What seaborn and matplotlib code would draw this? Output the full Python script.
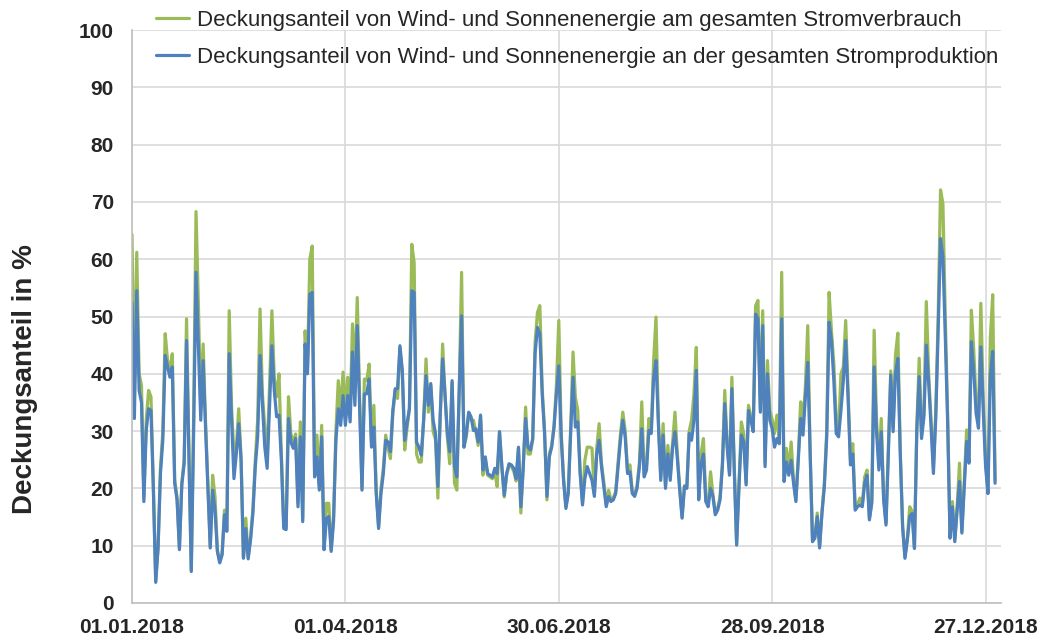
import pandas as pd
import numpy as np
import matplotlib
matplotlib.use("Agg")
import matplotlib.pyplot as plt
import matplotlib.dates as mdates
import seaborn as sns

# daily shares 2018 (in %)
produktion = [
    52.5, 32.2, 54.5, 37.1, 35.0, 17.7, 30.1, 33.9, 33.6, 20.0,
    3.6, 9.6, 22.6, 28.4, 43.2, 41.2, 39.4, 41.2, 20.9, 18.0,
    9.3, 20.6, 24.3, 45.8, 26.0, 5.5, 30.0, 57.7, 45.0, 31.9,
    42.3, 30.7, 20.3, 9.6, 19.7, 16.2, 9.0, 7.0, 8.4, 15.4,
    12.5, 43.5, 31.9, 21.7, 26.0, 31.3, 24.9, 7.8, 13.0, 7.7,
    11.0, 15.7, 23.8, 29.0, 43.2, 34.8, 27.2, 23.5, 34.2, 44.9,
    37.1, 32.5, 32.8, 24.9, 13.0, 12.8, 32.2, 28.1, 27.0, 28.7,
    16.8, 29.0, 14.2, 45.2, 40.0, 53.9, 54.2, 22.0, 25.5, 19.7,
    29.0, 9.3, 14.8, 15.1, 9.0, 14.2, 28.4, 33.9, 31.0, 36.2,
    31.0, 36.2, 31.6, 43.8, 34.5, 48.4, 34.2, 19.7, 36.5, 36.5,
    39.1, 27.2, 30.7, 19.1, 13.0, 19.1, 22.6, 28.4, 28.1, 26.4,
    33.6, 37.4, 37.4, 44.9, 40.6, 28.4, 31.3, 33.9, 54.5, 54.2,
    28.1, 27.2, 25.8, 31.9, 39.7, 34.5, 38.3, 31.9, 29.6, 20.3,
    33.0, 42.6, 36.5, 29.6, 26.4, 38.8, 23.8, 22.0, 37.1, 50.1,
    27.2, 29.6, 33.3, 32.5, 30.1, 30.4, 28.1, 32.8, 23.2, 25.5,
    22.6, 22.3, 22.0, 23.5, 22.6, 29.9, 23.8, 18.8, 22.6, 24.3,
    24.1, 23.5, 21.7, 27.2, 16.8, 23.8, 32.2, 27.2, 26.7, 28.7,
    43.5, 48.1, 47.0, 36.5, 29.6, 18.6, 25.5, 27.2, 30.7, 36.5,
    41.4, 29.0, 21.4, 16.5, 19.1, 29.6, 39.4, 30.7, 31.6, 22.6,
    17.1, 21.7, 23.8, 22.6, 21.4, 18.6, 26.0, 28.4, 23.8, 20.3,
    16.8, 18.6, 17.7, 18.0, 19.1, 23.8, 28.4, 31.9, 29.0, 22.6,
    22.9, 19.1, 18.6, 20.0, 23.8, 30.4, 22.0, 23.2, 30.1, 29.6,
    39.4, 42.3, 31.3, 21.4, 29.3, 20.0, 26.0, 21.4, 27.2, 29.9,
    25.2, 19.7, 14.8, 20.3, 20.0, 29.6, 28.4, 31.9, 40.6, 18.0,
    24.3, 26.0, 17.7, 16.8, 20.0, 18.6, 15.4, 16.2, 18.0, 23.8,
    34.8, 27.2, 22.3, 37.4, 23.2, 10.1, 20.3, 29.3, 28.1, 20.6,
    33.6, 31.9, 29.9, 50.4, 49.6, 33.3, 48.4, 23.8, 40.0, 31.9,
    30.4, 27.2, 28.7, 27.8, 49.6, 21.2, 24.6, 22.3, 24.9, 20.9,
    17.7, 24.9, 32.2, 29.3, 35.9, 42.0, 26.0, 10.7, 11.3, 15.1,
    9.6, 15.7, 20.3, 29.0, 49.0, 45.8, 38.8, 29.6, 29.0, 33.6,
    38.8, 45.8, 35.9, 24.1, 26.0, 16.2, 16.8, 17.1, 16.8, 20.9,
    22.3, 14.5, 17.4, 41.2, 30.0, 23.2, 29.9, 18.0, 13.6, 26.1,
    39.8, 29.9, 40.1, 42.7, 26.1, 13.3, 7.8, 11.0, 15.1, 15.6,
    9.5, 30.2, 39.5, 28.7, 32.5, 45.0, 38.3, 30.8, 22.6, 32.5,
    47.6, 63.6, 60.4, 46.5, 31.4, 11.3, 16.8, 10.7, 16.2, 21.2,
    12.2, 20.3, 28.2, 24.4, 45.6, 40.4, 33.1, 30.5, 44.7, 33.7,
    23.8, 19.1, 39.5, 43.9, 20.9,
]

verbrauch = [
    64.3, 36.0, 61.2, 40.0, 38.0, 18.5, 31.9, 37.1, 36.0, 20.5,
    3.8, 9.8, 23.5, 30.0, 47.0, 42.3, 40.9, 43.5, 21.5, 18.5,
    9.5, 21.0, 25.0, 49.6, 27.0, 5.6, 33.0, 68.3, 52.0, 34.0,
    45.2, 32.0, 21.0, 9.8, 22.3, 18.6, 9.3, 7.2, 8.7, 16.2,
    13.0, 51.0, 34.0, 26.0, 27.0, 33.9, 25.5, 8.0, 14.8, 8.0,
    11.5, 16.5, 25.0, 32.0, 51.3, 36.5, 30.7, 26.0, 37.7, 51.0,
    39.4, 36.0, 40.0, 26.0, 13.5, 13.2, 36.0, 29.5, 28.0, 29.5,
    17.5, 31.6, 14.8, 47.5, 41.0, 60.0, 62.3, 23.0, 29.3, 20.5,
    31.0, 9.6, 17.4, 17.4, 9.3, 15.0, 30.0, 38.8, 33.6, 40.3,
    33.6, 39.4, 33.6, 48.7, 39.4, 53.3, 36.0, 20.0, 39.1, 38.8,
    41.7, 28.0, 34.5, 19.5, 13.3, 20.0, 23.5, 29.3, 27.0, 25.2,
    33.0, 37.0, 35.7, 44.5, 40.0, 26.7, 30.5, 34.0, 62.6, 59.4,
    26.0, 24.6, 24.6, 31.9, 42.6, 33.3, 38.0, 29.9, 28.5, 18.3,
    32.5, 45.2, 36.5, 29.0, 24.3, 38.5, 20.9, 19.7, 37.0, 57.7,
    27.2, 29.0, 33.0, 32.0, 31.9, 30.0, 27.5, 32.5, 22.3, 25.0,
    22.3, 22.0, 21.7, 23.0, 20.3, 29.9, 23.5, 18.5, 22.3, 24.0,
    23.8, 23.0, 21.3, 27.0, 15.7, 23.5, 34.2, 26.0, 26.0, 28.5,
    45.5, 50.7, 51.9, 37.5, 30.0, 18.0, 26.0, 27.5, 31.0, 38.0,
    49.3, 30.0, 22.0, 16.8, 19.5, 30.5, 43.8, 35.9, 33.6, 23.0,
    17.5, 24.9, 27.2, 27.2, 27.0, 19.0, 27.0, 31.3, 24.5, 21.0,
    17.2, 19.7, 18.0, 18.3, 19.5, 24.5, 29.5, 33.3, 30.0, 23.0,
    24.1, 19.5, 19.0, 20.5, 24.5, 35.1, 22.5, 24.0, 32.2, 30.0,
    42.3, 49.9, 32.0, 22.0, 31.3, 20.5, 27.5, 22.0, 28.0, 33.3,
    26.0, 20.0, 15.0, 20.5, 20.3, 30.0, 31.9, 36.5, 44.6, 18.5,
    26.0, 28.7, 18.0, 17.0, 22.9, 19.0, 15.7, 16.5, 18.5, 24.5,
    37.1, 28.0, 22.8, 39.4, 24.0, 10.3, 21.0, 31.6, 29.5, 21.0,
    34.5, 32.5, 30.5, 51.9, 52.8, 34.0, 51.0, 24.5, 42.3, 33.6,
    32.0, 29.6, 32.8, 28.5, 57.7, 22.0, 27.0, 23.0, 28.1, 21.5,
    18.0, 25.5, 35.1, 31.9, 37.7, 48.4, 26.5, 11.0, 11.6, 15.7,
    10.0, 16.0, 21.0, 30.0, 54.2, 47.5, 41.7, 31.9, 30.0, 40.0,
    41.2, 49.3, 37.0, 25.0, 27.8, 16.7, 17.2, 18.3, 17.2, 22.0,
    23.2, 14.8, 17.8, 47.6, 32.0, 24.0, 32.2, 18.5, 14.0, 27.0,
    40.5, 30.5, 43.3, 47.1, 27.0, 13.6, 8.0, 11.3, 16.8, 16.0,
    9.8, 31.0, 42.7, 29.5, 33.5, 52.6, 40.0, 32.0, 23.5, 33.5,
    50.0, 72.1, 69.7, 50.0, 33.0, 11.6, 17.7, 11.0, 16.8, 24.4,
    12.5, 21.0, 30.2, 25.0, 51.1, 44.2, 35.0, 32.0, 52.3, 36.0,
    25.0, 19.5, 46.2, 53.8, 21.5,
]

labels = [
    "Deckungsanteil von Wind- und Sonnenenergie am gesamten Stromverbrauch",
    "Deckungsanteil von Wind- und Sonnenenergie an der gesamten Stromproduktion",
]
tick_dates = ["2018-01-01", "2018-04-01", "2018-06-30", "2018-09-28", "2018-12-27"]

n = min(len(produktion), len(verbrauch))
dates = pd.date_range("2018-01-01", periods=n, freq="D")
df = pd.DataFrame({
    "Datum": np.concatenate([dates, dates]),
    "Wert": verbrauch[:n] + produktion[:n],
    "Reihe": [labels[0]] * n + [labels[1]] * n,
})

sns.set_style("white")
plt.rcParams["font.family"] = ["Liberation Sans", "DejaVu Sans"]

fig = plt.figure(figsize=(10.37, 6.41), dpi=100)
ax = fig.add_axes([132 / 1037, 38 / 641, 869 / 1037, 573 / 641])

sns.lineplot(data=df, x="Datum", y="Wert", hue="Reihe", hue_order=labels,
             palette=["#9bbb59", "#4f81bd"], linewidth=2.3, ax=ax, legend=False)

start = pd.Timestamp("2018-01-01")
ax.set_xlim(start, start + pd.Timedelta(days=366.5))
ax.set_ylim(0, 100)
ax.set_yticks(range(0, 101, 10))
ax.set_xticks(pd.to_datetime(tick_dates))
ax.xaxis.set_major_formatter(mdates.DateFormatter("%d.%m.%Y"))

ax.grid(True, color="#d9d9d9", linewidth=1.2)
ax.set_axisbelow(True)
for s in ["top", "right"]:
    ax.spines[s].set_visible(False)
for s in ["left", "bottom"]:
    ax.spines[s].set_color("#bfbfbf")
    ax.spines[s].set_linewidth(1.2)

ax.tick_params(axis="y", length=5, color="#bfbfbf", labelsize=15, pad=8)
ax.tick_params(axis="x", length=0, labelsize=15, pad=11)
for t in ax.get_xticklabels() + ax.get_yticklabels():
    t.set_fontweight("bold")

ax.set_xlabel("")
ax.set_ylabel("Deckungsanteil in %", fontsize=20, fontweight="bold")
ax.yaxis.set_label_coords(-0.108, 0.39)

handles = [plt.Line2D([], [], color="#9bbb59", linewidth=2.3),
           plt.Line2D([], [], color="#4f81bd", linewidth=2.3)]
fig.legend(handles, labels, loc="upper left", bbox_to_anchor=(156 / 1037, 1 - 10 / 641),
           frameon=False, fontsize=16, handlelength=1.5, handletextpad=0.35,
           labelspacing=0.7, borderpad=0, borderaxespad=0)

fig.savefig("out.png", dpi=100)
